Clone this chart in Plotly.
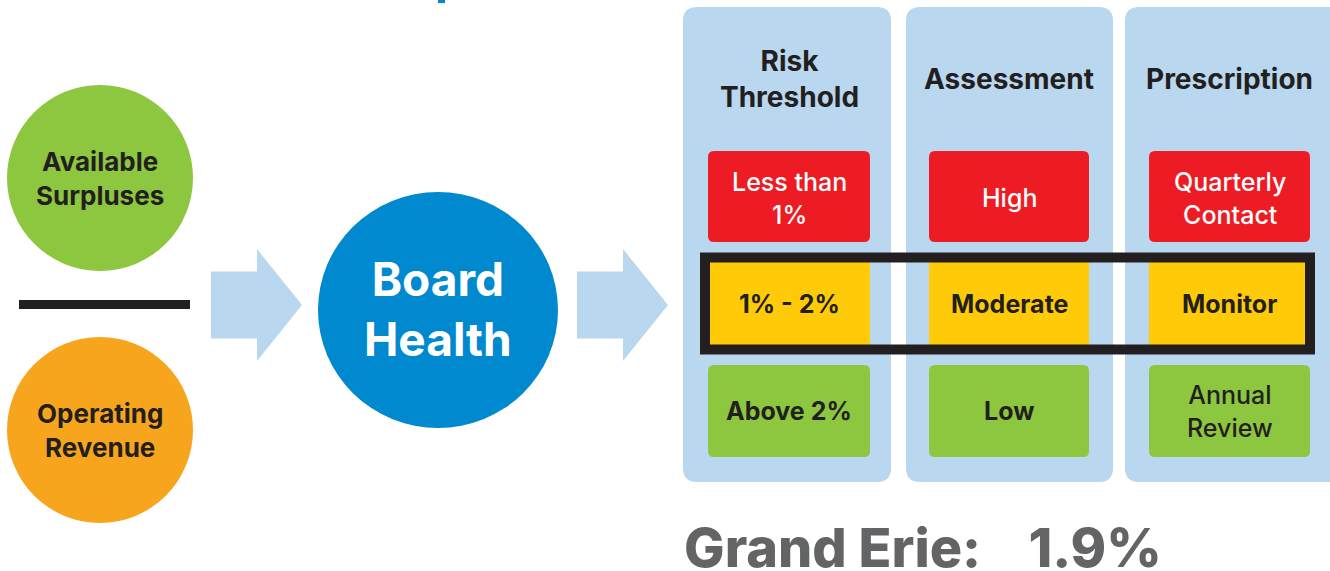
import plotly.graph_objects as go

# diagram content
input_labels = ["Available<br>Surpluses", "Operating<br>Revenue"]
input_colors = ["#8DC63F", "#F8A51E"]
center_label = "Board<br>Health"
headers = ["Risk<br>Threshold", "Assessment", "Prescription"]
high_row = ["Less than<br>1%", "High", "Quarterly<br>Contact"]
mid_row = ["1% - 2%", "Moderate", "Monitor"]
low_row = ["Above 2%", "Low", "Annual<br>Review"]
board_name = "Grand Erie"
board_ratio = 1.9

FONT = "Inter, Open Sans, sans-serif"
DARK = "#231F20"
LIGHT_BLUE = "#B9D7EE"
W, H = 1330, 571


def rounded_rect(x0, y0, x1, y1, r):
    return (f"M {x0+r},{y0} L {x1-r},{y0} Q {x1},{y0} {x1},{y0+r} "
            f"L {x1},{y1-r} Q {x1},{y1} {x1-r},{y1} L {x0+r},{y1} "
            f"Q {x0},{y1} {x0},{y1-r} L {x0},{y0+r} Q {x0},{y0} {x0+r},{y0} Z")


def arrow(x0, x1, x2, yc, body_h, head_h):
    return (f"M {x0},{yc-body_h/2} L {x1},{yc-body_h/2} L {x1},{yc-head_h/2} "
            f"L {x2},{yc} L {x1},{yc+head_h/2} L {x1},{yc+body_h/2} "
            f"L {x0},{yc+body_h/2} Z")


shapes = []
annotations = []


def label(x, y, text, size, color=DARK, weight=700):
    annotations.append(dict(x=x, y=y, text=text, showarrow=False, xanchor="center",
                            yanchor="middle", font=dict(family=FONT, size=size,
                                                        color=color, weight=weight)))


# cut-off title fragment at the top
shapes.append(dict(type="rect", x0=438, x1=445, y0=0, y1=3, fillcolor="#0089CF", line_width=0))

# input circles and divider
for lbl, col, cy in zip(input_labels, input_colors, [178, 430]):
    shapes.append(dict(type="circle", x0=7, x1=193, y0=cy - 93, y1=cy + 93,
                       fillcolor=col, line_width=0))
    label(100, cy, lbl, 26)
shapes.append(dict(type="rect", x0=19, x1=190, y0=300, y1=309, fillcolor=DARK, line_width=0))

# arrows
for x0, x1, x2 in [(211, 257, 302), (577, 623, 668)]:
    shapes.append(dict(type="path", path=arrow(x0, x1, x2, 305, 67, 112),
                       fillcolor=LIGHT_BLUE, line_width=0))

# central circle
shapes.append(dict(type="circle", x0=318, x1=558, y0=192, y1=428,
                   fillcolor="#0089CF", line_width=0))
label(438, 309, center_label, 46, color="white")

# columns
col_x = [(683, 891), (906, 1113), (1125, 1345)]
box_x = [(708, 870), (929, 1089), (1149, 1310)]
for (cx0, cx1), (bx0, bx1), head, hi, mid, lo in zip(col_x, box_x, headers, high_row, mid_row, low_row):
    shapes.append(dict(type="path", path=rounded_rect(cx0, 7, cx1, 482, 14),
                       fillcolor=LIGHT_BLUE, line_width=0, layer="below"))
    xc = (bx0 + bx1) / 2
    label(xc, 79, head, 28)
    shapes.append(dict(type="path", path=rounded_rect(bx0, 151, bx1, 242, 6),
                       fillcolor="#ED1C24", line_width=0))
    label(xc, 198, hi, 25, color="white", weight=500)
    shapes.append(dict(type="rect", x0=bx0, x1=bx1, y0=262, y1=345,
                       fillcolor="#FFCB08", line_width=0))
    label(xc, 304, mid, 25)
    shapes.append(dict(type="path", path=rounded_rect(bx0, 365, bx1, 457, 6),
                       fillcolor="#8DC63F", line_width=0))
    label(xc, 411, lo, 25, weight=700 if "<br>" not in lo else 500)

# highlighted row
shapes.append(dict(type="rect", x0=705, x1=1310, y0=257.5, y1=349.5,
                   line=dict(color=DARK, width=10), fillcolor="rgba(0,0,0,0)"))

annotations.append(dict(x=682, y=547, text=f"{board_name}:" + "&nbsp;" * 4 + f"{board_ratio}%",
                        showarrow=False, xanchor="left", yanchor="middle",
                        font=dict(family=FONT, size=54, color="#636466", weight=800)))

fig = go.Figure()
fig.update_layout(
    width=W, height=H,
    margin=dict(l=0, r=0, t=0, b=0),
    paper_bgcolor="white", plot_bgcolor="white",
    xaxis=dict(range=[0, W], visible=False, fixedrange=True),
    yaxis=dict(range=[H, 0], visible=False, fixedrange=True),
    shapes=shapes, annotations=annotations,
    showlegend=False,
)
fig.write_html("out.html", config={"displayModeBar": False},
               post_script="document.body.style.margin='0';document.body.style.overflow='hidden';")
